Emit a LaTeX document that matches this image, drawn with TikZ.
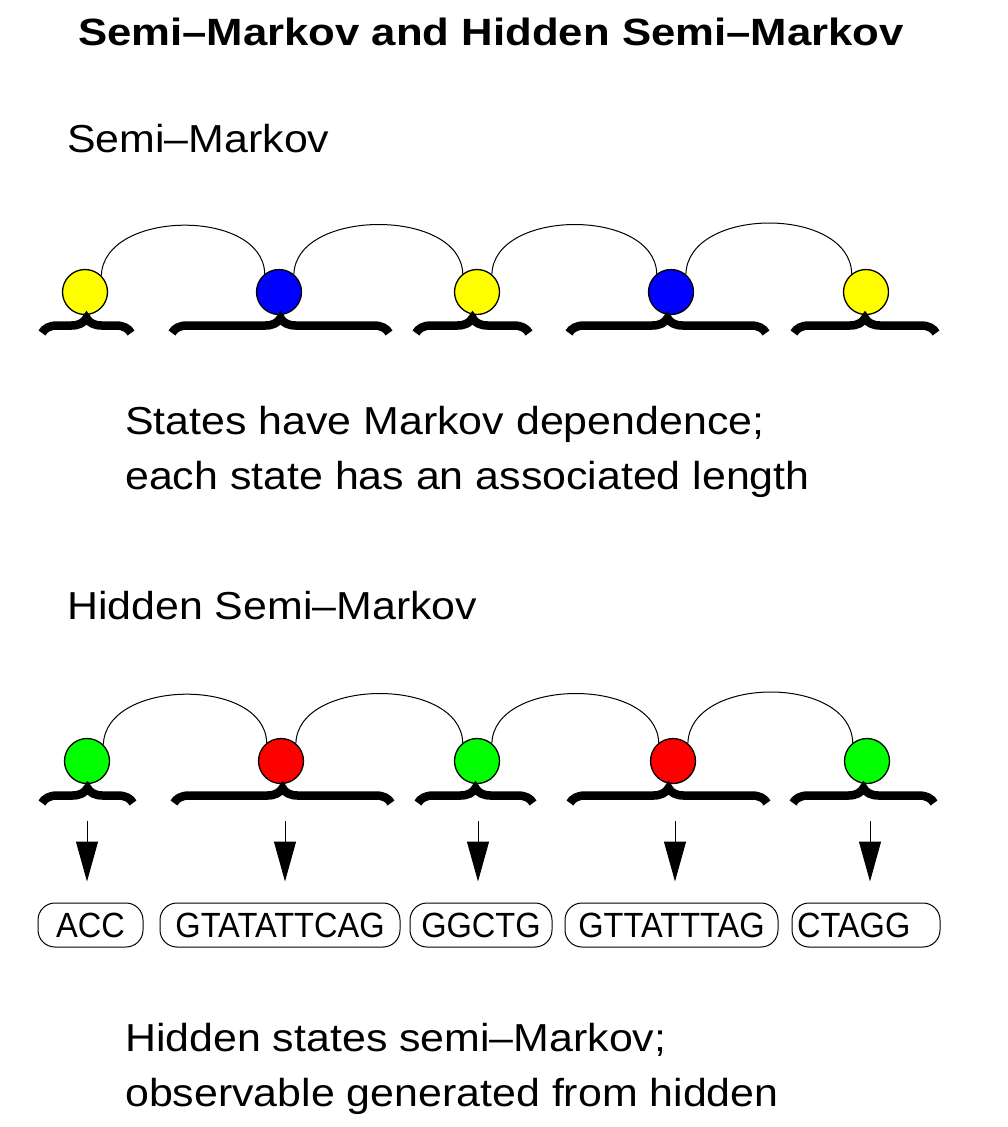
\documentclass[tikz,border=0pt]{standalone}
\usepackage{fontspec}
\setmainfont{Liberation Sans}
\newfontfamily\bodyfont[FakeStretch=1.1]{Liberation Sans}
\newfontfamily\boxfont[FakeStretch=0.93]{Liberation Sans}
\newfontfamily\headfont[FakeStretch=1.15]{Liberation Sans}
\usetikzlibrary{decorations.pathreplacing,arrows.meta}
\definecolor{cyel}{RGB}{255,255,0}
\definecolor{cblu}{RGB}{0,0,255}
\definecolor{cgrn}{RGB}{0,255,0}
\definecolor{cred}{RGB}{255,0,0}
\tikzset{
  statenode/.style={circle, draw=black, line width=1.3pt, minimum size=45pt, inner sep=0pt},
  arcline/.style={line width=1pt},
  bracebar/.style={line width=8.5pt, decorate, decoration={brace, amplitude=15pt}},
  obs/.style={draw=black, line width=1pt, rounded corners=17pt, minimum height=44pt, inner ysep=0pt, inner xsep=5pt, font={\boxfont\fontsize{35}{35}\selectfont}},
  emit/.style={line width=1pt, -{Triangle[length=40pt,width=22pt]}, shorten >=21pt},
  txt/.style={anchor=base west, inner sep=0pt, font={\bodyfont\fontsize{39}{55}\selectfont}}
}
\begin{document}
\begin{tikzpicture}[x=1pt,y=-1pt]
\useasboundingbox[fill=white] (0,0) rectangle (1008,1127);
% titles
\node[anchor=base, inner sep=0pt, font={\headfont\bfseries\fontsize{38}{38}\selectfont}] (title) at (491,45) {Semi–Markov and Hidden Semi–Markov};
\node[txt] (sub1) at (67,152) {Semi–Markov};
\node[txt] (d1a) at (125,434) {States have Markov dependence;};
\node[txt] (d1b) at (125,489) {each state has an associated length};
\node[txt] (sub2) at (67,619) {Hidden Semi–Markov};
\node[txt] (d2a) at (125,1051) {Hidden states semi–Markov;};
\node[txt] (d2b) at (125,1106) {observable generated from hidden};

% Semi-Markov chain
\node[statenode, fill=cyel] (s1) at (85,292) {};
\node[statenode, fill=cblu] (s2) at (279,292) {};
\node[statenode, fill=cyel] (s3) at (477,292) {};
\node[statenode, fill=cblu] (s4) at (671,292) {};
\node[statenode, fill=cyel] (s5) at (866,292) {};
\draw[arcline] (s1.45) .. controls +(2,-66) and +(-2,-66) .. (s2.128);
\draw[arcline] (s2.50) .. controls +(2,-66) and +(-2,-66) .. (s3.128);
\draw[arcline] (s3.50) .. controls +(2,-66) and +(-2,-66) .. (s4.128);
\draw[arcline] (s4.50) .. controls +(2,-68) and +(-2,-68) .. (s5.128);
\draw[bracebar] (42,333) -- (131,333);
\draw[bracebar] (172,333) -- (389,333);
\draw[bracebar] (416,333) -- (529,333);
\draw[bracebar] (569,333) -- (766,333);
\draw[bracebar] (794,333) -- (936,333);

% Hidden semi-Markov chain
\node[statenode, fill=cgrn] (h1) at (87,761) {};
\node[statenode, fill=cred] (h2) at (281,761) {};
\node[statenode, fill=cgrn] (h3) at (477,761) {};
\node[statenode, fill=cred] (h4) at (673,761) {};
\node[statenode, fill=cgrn] (h5) at (867,761) {};
\draw[arcline] (h1.45) .. controls +(2,-66) and +(-2,-66) .. (h2.128);
\draw[arcline] (h2.50) .. controls +(2,-66) and +(-2,-66) .. (h3.128);
\draw[arcline] (h3.50) .. controls +(2,-66) and +(-2,-66) .. (h4.128);
\draw[arcline] (h4.50) .. controls +(2,-68) and +(-2,-68) .. (h5.128);
\draw[bracebar] (42,803) -- (133,803);
\draw[bracebar] (174,803) -- (391,803);
\draw[bracebar] (418,803) -- (533,803);
\draw[bracebar] (570,803) -- (767,803);
\draw[bracebar] (793,803) -- (934,803);

% observations
\node[obs, text width=95pt, align=center] (o1) at (90.5,925) {ACC};
\node[obs, text width=230pt, align=center] (o2) at (280,925) {GTATATTCAG};
\node[obs, text width=132pt, align=center] (o3) at (481,925) {GGCTG};
\node[obs, text width=203pt, align=center] (o4) at (671.5,925) {GTTATTTAG};
\node[obs, text width=138pt, align=left] (o5) at (866,925) {CTAGG};

\coordinate (e1) at (87,821);
\coordinate (e2) at (285,821);
\coordinate (e3) at (478,821);
\coordinate (e4) at (675,821);
\coordinate (e5) at (870,821);
\draw[emit] (e1) -- (e1 |- o1.north);
\draw[emit] (e2) -- (e2 |- o2.north);
\draw[emit] (e3) -- (e3 |- o3.north);
\draw[emit] (e4) -- (e4 |- o4.north);
\draw[emit] (e5) -- (e5 |- o5.north);
\end{tikzpicture}
\end{document}
